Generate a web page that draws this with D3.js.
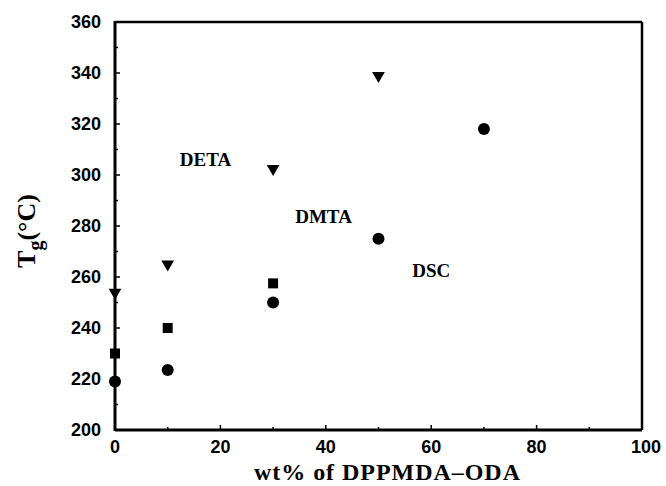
<!DOCTYPE html>
<html><head><meta charset="utf-8">
<script src="https://cdn.jsdelivr.net/npm/d3@7"></script>
<style>html,body{margin:0;padding:0;background:#fff;}svg{display:block;}
.serif{font-family:'Liberation Serif','Times New Roman',serif;font-weight:bold;fill:#000;}
.sans{font-family:'Liberation Sans',Arial,sans-serif;font-weight:bold;fill:#000;}
</style>
</head><body>
<svg id="c" width="666" height="486"></svg>
<script>
// Data
const detaX = [0, 10, 30, 50];
const detaY = [254, 265, 302.5, 339];
const dmtaX = [0, 10, 30];
const dmtaY = [230, 240, 257.5];
const dscX = [0, 10, 30, 50, 70];
const dscY = [219, 223.5, 250, 275, 318];
const xTicks = [0, 20, 40, 60, 80, 100];
const yTicks = [200, 220, 240, 260, 280, 300, 320, 340, 360];
const labelText = ["DETA", "DMTA", "DSC"];
const labelX = [12.3, 34.2, 56.4];
const labelY = [303.5, 281.2, 260];

const svg = d3.select("#c");
const W = 666, H = 486;
const m = {l: 115, r: 642, t: 22, b: 430};
const x = d3.scaleLinear().domain([0, 100]).range([m.l, m.r]);
const y = d3.scaleLinear().domain([200, 360]).range([m.b, m.t]);

svg.append("rect").attr("width", W).attr("height", H).attr("fill", "#fff");

// minor/major inward ticks
const g = svg.append("g").attr("stroke", "#000");
d3.range(200, 361, 10).forEach(v => {
  const len = v % 20 === 0 ? 5 : 3;
  g.append("line").attr("x1", m.l).attr("x2", m.l + len)
    .attr("y1", y(v)).attr("y2", y(v)).attr("stroke-width", 1.5);
});
d3.range(0, 101, 10).forEach(v => {
  const len = v % 20 === 0 ? 5 : 3;
  g.append("line").attr("x1", x(v)).attr("x2", x(v))
    .attr("y1", m.b).attr("y2", m.b - len).attr("stroke-width", 1.5);
});

// frame
svg.append("line").attr("x1", m.l).attr("x2", m.r).attr("y1", m.t).attr("y2", m.t).attr("stroke", "#000").attr("stroke-width", 2.5);
svg.append("line").attr("x1", m.r).attr("x2", m.r).attr("y1", m.t).attr("y2", m.b).attr("stroke", "#000").attr("stroke-width", 2.5);
svg.append("line").attr("x1", m.l).attr("x2", m.r).attr("y1", m.b).attr("y2", m.b).attr("stroke", "#000").attr("stroke-width", 3);
svg.append("line").attr("x1", m.l).attr("x2", m.l).attr("y1", m.t - 1).attr("y2", m.b + 1).attr("stroke", "#000").attr("stroke-width", 3);

// tick labels
svg.append("g").selectAll("text").data(yTicks).join("text")
  .attr("class", "sans")
  .attr("x", 101).attr("y", d => y(d)).attr("dy", "0.36em")
  .attr("text-anchor", "end").attr("font-size", 18)
  .text(d => d);
svg.append("g").selectAll("text").data(xTicks).join("text")
  .attr("class", "sans")
  .attr("x", d => x(d) + (d === 100 ? 4 : 0)).attr("y", 453)
  .attr("text-anchor", "middle").attr("font-size", 18)
  .text(d => d);

// axis titles
svg.append("text").attr("class", "serif")
  .attr("x", 387).attr("y", 480)
  .attr("text-anchor", "middle").attr("font-size", 24)
  .attr("textLength", 266).attr("lengthAdjust", "spacing")
  .text("wt% of DPPMDA–ODA");

const yl = svg.append("text").attr("class", "serif")
  .attr("transform", "translate(35,231) rotate(-90)")
  .attr("text-anchor", "middle").attr("font-size", 26);
yl.append("tspan").text("T");
yl.append("tspan").attr("dy", 7).attr("font-size", 20).text("g");
yl.append("tspan").attr("dy", -7).text("(°C)");

// markers
const tri = d3.symbol().type(d3.symbolTriangle).size(70);
svg.append("g").selectAll("path").data(detaX.map((d, i) => [d, detaY[i]])).join("path")
  .attr("d", tri)
  .attr("transform", d => `translate(${x(d[0])},${y(d[1])}) rotate(180)`)
  .attr("fill", "#000");
svg.append("g").selectAll("rect").data(dmtaX.map((d, i) => [d, dmtaY[i]])).join("rect")
  .attr("x", d => x(d[0]) - 5).attr("y", d => y(d[1]) - 5)
  .attr("width", 10).attr("height", 10).attr("fill", "#000");
svg.append("g").selectAll("circle").data(dscX.map((d, i) => [d, dscY[i]])).join("circle")
  .attr("cx", d => x(d[0])).attr("cy", d => y(d[1])).attr("r", 6).attr("fill", "#000");

// series labels
svg.append("g").selectAll("text").data(labelText).join("text")
  .attr("class", "serif")
  .attr("x", (d, i) => x(labelX[i])).attr("y", (d, i) => y(labelY[i]))
  .attr("font-size", 19)
  .text(d => d);
</script>
</body></html>
